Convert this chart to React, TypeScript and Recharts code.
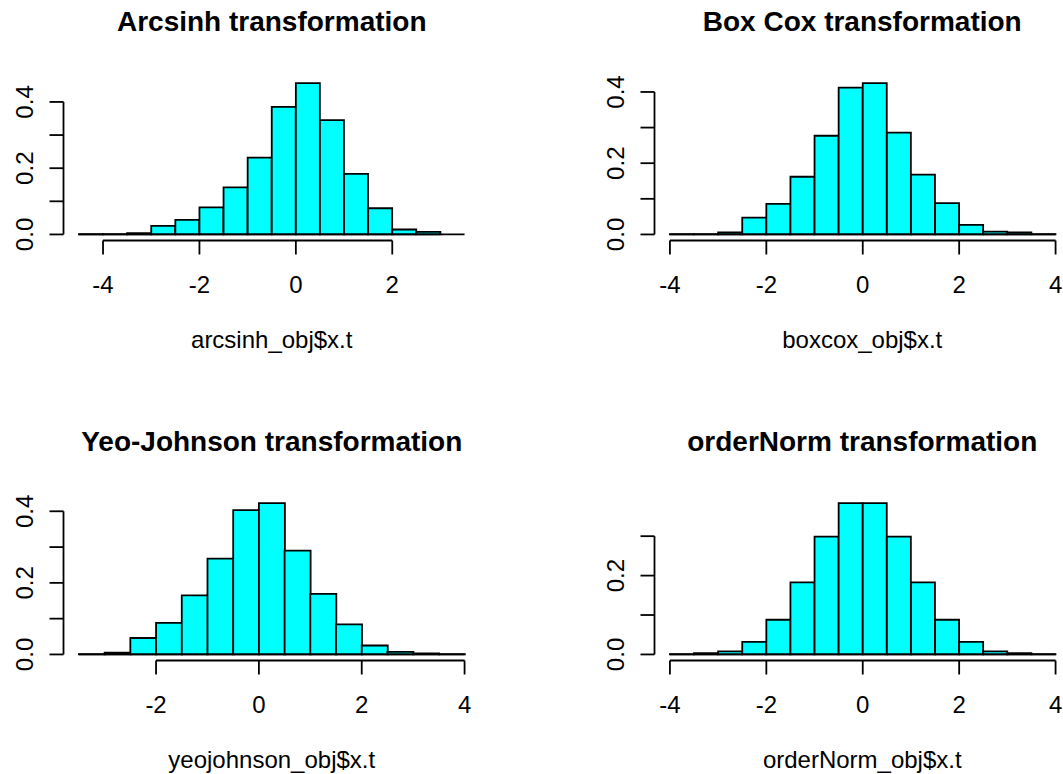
import { Bar, BarChart, ReferenceLine, XAxis, YAxis } from "recharts";

// histogram breaks (bin edges) and density per bin
const arcsinhBreaks = [-4.5, -4, -3.5, -3, -2.5, -2, -1.5, -1, -0.5, 0, 0.5, 1, 1.5, 2, 2.5, 3, 3.5];
const arcsinhDensity = [0.001, 0.001, 0.004, 0.026, 0.044, 0.082, 0.142, 0.232, 0.385, 0.457, 0.345, 0.183, 0.079, 0.015, 0.008, 0];

const boxcoxBreaks = [-4, -3.5, -3, -2.5, -2, -1.5, -1, -0.5, 0, 0.5, 1, 1.5, 2, 2.5, 3, 3.5, 4];
const boxcoxDensity = [0.001, 0.001, 0.006, 0.047, 0.086, 0.162, 0.277, 0.412, 0.425, 0.286, 0.168, 0.088, 0.027, 0.008, 0.006, 0.001];

const yeojohnsonBreaks = [-3.5, -3, -2.5, -2, -1.5, -1, -0.5, 0, 0.5, 1, 1.5, 2, 2.5, 3, 3.5, 4];
const yeojohnsonDensity = [0.001, 0.005, 0.046, 0.088, 0.165, 0.268, 0.403, 0.423, 0.29, 0.169, 0.084, 0.025, 0.007, 0.003, 0.001];

const orderNormBreaks = [-4, -3.5, -3, -2.5, -2, -1.5, -1, -0.5, 0, 0.5, 1, 1.5, 2, 2.5, 3, 3.5, 4];
const orderNormDensity = [0.0005, 0.003, 0.008, 0.032, 0.088, 0.183, 0.299, 0.384, 0.384, 0.299, 0.183, 0.088, 0.032, 0.008, 0.003, 0.0005];

const arcsinhXTicks = [-4, -2, 0, 2];
const boxcoxXTicks = [-4, -2, 0, 2, 4];
const yeojohnsonXTicks = [-2, 0, 2, 4];
const orderNormXTicks = [-4, -2, 0, 2, 4];

const yTicksTo04 = [0, 0.1, 0.2, 0.3, 0.4];
const yTicksTo03 = [0, 0.1, 0.2, 0.3];
const yLabelled = [0, 0.2, 0.4];

const FONT = '"Liberation Sans", Arial, Helvetica, sans-serif';
const INK = "#000";
const LW = 1.8;

// layout of one panel
const CHART_W = 560;
const CHART_H = 320;
const M_LEFT = 13.5;
const Y_W = 50;
const PLOT_W = 416.5;
const M_TOP = 77;
const PLOT_H = 163.5;
const X_H = 60;

function YTick(props: any) {
  const { x, y, payload } = props;
  const v = payload.value;
  if (!yLabelled.some((l) => Math.abs(l - v) < 1e-9)) return <g />;
  const bx = x - 16.5;
  return (
    <text
      x={bx}
      y={y}
      transform={`rotate(-90, ${bx}, ${y})`}
      textAnchor="middle"
      fontFamily={FONT}
      fontSize={24}
      fill={INK}
    >
      {v.toFixed(1)}
    </text>
  );
}

type PanelProps = {
  left: number;
  top: number;
  title: string;
  xLabel: string;
  breaks: number[];
  density: number[];
  xTicks: number[];
  yTicks: number[];
};

function Panel({ left, top, title, xLabel, breaks, density, xTicks, yTicks }: PanelProps) {
  const rows = density.map((d, i) => ({ mid: (breaks[i] + breaks[i + 1]) / 2, density: d }));
  const b0 = breaks[0];
  const bn = breaks[breaks.length - 1];
  const ext = 0.04 * (bn - b0);
  const ymax = Math.max(...density);
  const ylo = -0.04 * ymax;
  const yhi = 1.04 * ymax;
  const plotLeft = left + M_LEFT + Y_W;

  return (
    <>
      <div
        style={{
          position: "absolute",
          left: plotLeft,
          top: top + 8,
          width: PLOT_W,
          textAlign: "center",
          fontFamily: FONT,
          fontWeight: "bold",
          fontSize: 28,
          lineHeight: "28px",
          color: INK,
          whiteSpace: "nowrap",
        }}
      >
        {title}
      </div>
      <div style={{ position: "absolute", left, top }}>
        <BarChart
          width={CHART_W}
          height={CHART_H}
          data={rows}
          margin={{ top: M_TOP, left: M_LEFT, right: CHART_W - M_LEFT - Y_W - PLOT_W, bottom: CHART_H - M_TOP - PLOT_H - X_H }}
          barCategoryGap={0}
          barGap={0}
        >
          <XAxis
            dataKey="mid"
            type="number"
            domain={[b0 - ext, bn + ext]}
            allowDataOverflow
            ticks={xTicks}
            interval={0}
            axisLine={false}
            tickSize={14}
            tickMargin={21}
            tickLine={{ stroke: INK, strokeWidth: LW }}
            tick={{ fill: INK, fontSize: 24, fontFamily: FONT }}
            height={X_H}
          />
          <YAxis
            type="number"
            domain={[ylo, yhi]}
            allowDataOverflow
            ticks={yTicks}
            interval={0}
            axisLine={false}
            tickSize={14}
            tickMargin={0}
            tickLine={{ stroke: INK, strokeWidth: LW }}
            tick={(p: any) => <YTick {...p} />}
            width={Y_W}
          />
          <ReferenceLine
            segment={[{ x: b0, y: 0 }, { x: bn, y: 0 }]}
            stroke={INK}
            strokeWidth={LW}
            ifOverflow="visible"
          />
          <Bar
            dataKey="density"
            fill="#00FFFF"
            stroke={INK}
            strokeWidth={LW}
            isAnimationActive={false}
          />
          <ReferenceLine
            segment={[{ x: xTicks[0], y: ylo }, { x: xTicks[xTicks.length - 1], y: ylo }]}
            stroke={INK}
            strokeWidth={LW}
            ifOverflow="visible"
          />
          <ReferenceLine
            segment={[{ x: b0 - ext, y: yTicks[0] }, { x: b0 - ext, y: yTicks[yTicks.length - 1] }]}
            stroke={INK}
            strokeWidth={LW}
            ifOverflow="visible"
          />
        </BarChart>
      </div>
      <div
        style={{
          position: "absolute",
          left: plotLeft,
          top: top + 328,
          width: PLOT_W,
          textAlign: "center",
          fontFamily: FONT,
          fontSize: 24,
          lineHeight: "24px",
          color: INK,
          whiteSpace: "nowrap",
        }}
      >
        {xLabel}
      </div>
    </>
  );
}

export default function App() {
  return (
    <div
      style={{
        position: "absolute",
        left: 0,
        top: 0,
        width: 1063,
        height: 774,
        overflow: "hidden",
        background: "#fff",
      }}
    >
      <Panel
        left={0}
        top={0}
        title="Arcsinh transformation"
        xLabel="arcsinh_obj$x.t"
        breaks={arcsinhBreaks}
        density={arcsinhDensity}
        xTicks={arcsinhXTicks}
        yTicks={yTicksTo04}
      />
      <Panel
        left={590.5}
        top={0}
        title="Box Cox transformation"
        xLabel="boxcox_obj$x.t"
        breaks={boxcoxBreaks}
        density={boxcoxDensity}
        xTicks={boxcoxXTicks}
        yTicks={yTicksTo04}
      />
      <Panel
        left={0}
        top={420}
        title="Yeo-Johnson transformation"
        xLabel="yeojohnson_obj$x.t"
        breaks={yeojohnsonBreaks}
        density={yeojohnsonDensity}
        xTicks={yeojohnsonXTicks}
        yTicks={yTicksTo04}
      />
      <Panel
        left={590.5}
        top={420}
        title="orderNorm transformation"
        xLabel="orderNorm_obj$x.t"
        breaks={orderNormBreaks}
        density={orderNormDensity}
        xTicks={orderNormXTicks}
        yTicks={yTicksTo03}
      />
    </div>
  );
}
